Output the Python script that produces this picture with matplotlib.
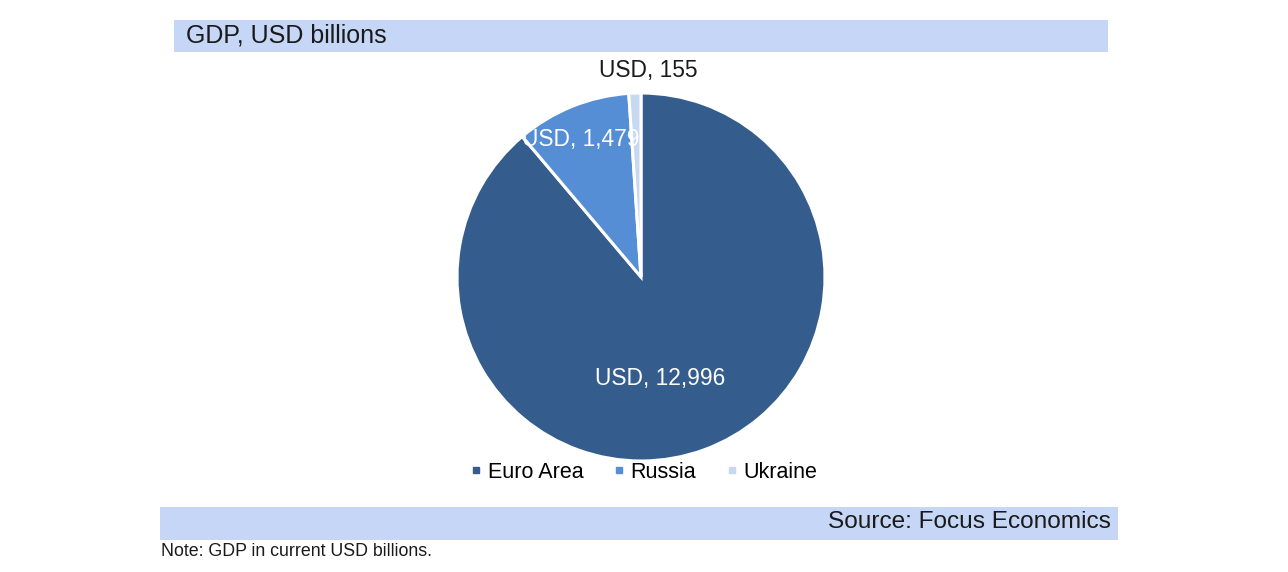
import matplotlib
matplotlib.use("Agg")
import matplotlib.pyplot as plt
from matplotlib.patches import Rectangle
from matplotlib.lines import Line2D

plt.rcParams['font.family'] = ['Liberation Sans', 'DejaVu Sans']

categories = ["Euro Area", "Russia", "Ukraine"]
values = [12996, 1479, 155]
value_labels = ["USD, 12,996", "USD, 1,479", "USD, 155"]
colors = ["#345d8e", "#558ed5", "#c6d9f1"]
title = "GDP, USD billions"
source = "Source: Focus Economics"
note = "Note: GDP in current USD billions."

W, H = 1288, 572
fig = plt.figure(figsize=(W / 100, H / 100), dpi=100)
bg = fig.add_axes([0, 0, 1, 1])
bg.set_xlim(0, W)
bg.set_ylim(H, 0)
bg.axis('off')

bar_color = "#c5d6f6"
bg.add_patch(Rectangle((174, 20), 934, 32, color=bar_color, lw=0))
bg.text(186, 36, title, fontsize=18, va='center', ha='left', color='#1a1a1a')
bg.add_patch(Rectangle((160, 507), 958, 33, color=bar_color, lw=0))
bg.text(1111, 522, source, fontsize=17.6, va='center', ha='right', color='#1a1a1a')
bg.text(161, 551, note, fontsize=12.8, va='center', ha='left', color='#1a1a1a')

cx, cy, r = 641, 277, 184
ax = fig.add_axes([(cx - r) / W, (H - cy - r) / H, 2 * r / W, 2 * r / H])
wedges, texts = ax.pie(values, colors=colors, startangle=90, counterclock=False,
                       labels=value_labels, labeldistance=0.6,
                       wedgeprops=dict(edgecolor='white', linewidth=2.2))
ax.set_xlim(-1, 1)
ax.set_ylim(-1, 1)
ax.set_aspect('equal')
label_pos = [(0.103, -0.55), (-0.33, 0.745), (0.04, 1.125)]
label_col = ['white', 'white', '#1a1a1a']
for t, p, c in zip(texts, label_pos, label_col):
    t.set_position(p)
    t.set_ha('center')
    t.set_va('center')
    t.set_color(c)
    t.set_fontsize(16.4)
    t.set_clip_on(False)

handles = [Line2D([], [], marker='s', linestyle='none', markersize=5,
                  markerfacecolor=c, markeredgecolor=c) for c in colors]
fig.legend(handles, categories, loc='center', bbox_to_anchor=(644 / W, 1 - 472 / H),
           ncol=3, frameon=False, fontsize=15.5, handlelength=0.5, handletextpad=0.3,
           columnspacing=1.4)

fig.savefig("out.png", dpi=100)
